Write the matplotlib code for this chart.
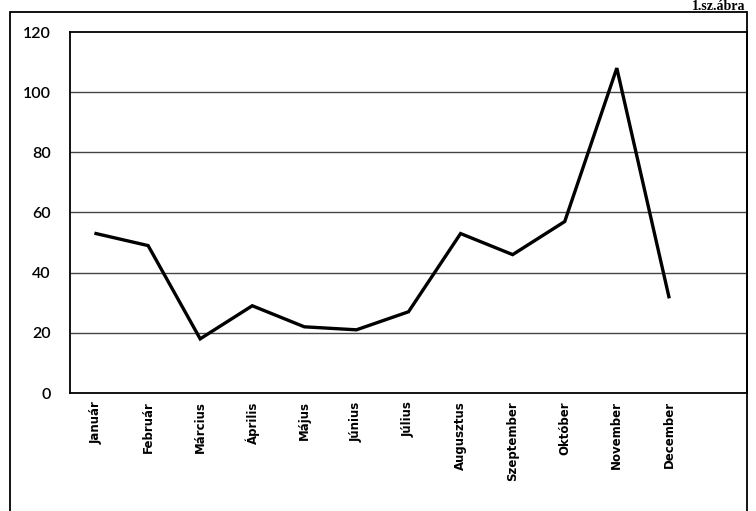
import numpy as np
import matplotlib.pyplot as plt
from matplotlib.patches import Rectangle

months = ['Január', 'Február', 'Március', 'Április', 'Május', 'Június',
          'Július', 'Augusztus', 'Szeptember', 'Október', 'November', 'December']
values = [53, 49, 18, 29, 22, 21, 27, 53, 46, 57, 108, 32]
yticks = [0, 20, 40, 60, 80, 100, 120]
title = '1.sz.ábra'

W, H = 756, 511
fig = plt.figure(figsize=(W / 100, H / 100), dpi=100)

# plot area in pixel coords: left 70, right 747, top 32, bottom 393
ax = fig.add_axes([70 / W, 1 - 393 / H, (747 - 70) / W, (393 - 32) / H])

x = np.arange(len(months))
ax.plot(x, values, color='black', linewidth=2.4, solid_joinstyle='miter')

ax.set_xlim(-0.5, len(months) + 0.5)
ax.set_ylim(0, 120)
ax.set_yticks(yticks)
ax.set_yticklabels([str(v) for v in yticks], family='Lato', fontsize=11.5, weight='semibold')
ax.set_xticks(x)
ax.set_xticklabels(months, rotation=90, family=['Liberation Sans Narrow', 'DejaVu Sans'],
                   fontsize=8.5, weight='bold', va='top')
ax.tick_params(axis='both', length=0, pad=6)
ax.tick_params(axis='y', pad=14)

for v in yticks[1:-1]:
    ax.axhline(v, color='#444444', linewidth=1.0, zorder=0)

for s in ax.spines.values():
    s.set_color('black')
    s.set_linewidth(1.3)

# outer chart border
fig.patches.append(Rectangle((10 / W, -0.05), (747 - 10) / W, 1 - 12 / H + 0.05,
                             transform=fig.transFigure, fill=False,
                             edgecolor='black', linewidth=1.3))

# caption squeezed into the strip above the border
fig.text(745 / W, 1 - 10 / H, title, ha='right', va='baseline',
         family='Liberation Serif', weight='bold', fontsize=10)

fig.savefig('out.png', dpi=100)
